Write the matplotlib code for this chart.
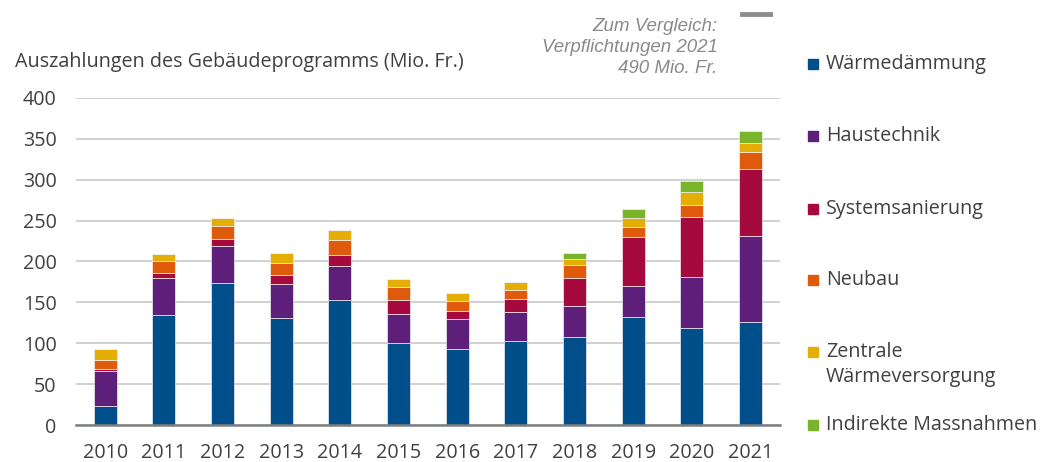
import numpy as np
import matplotlib.pyplot as plt
from matplotlib.patches import Rectangle
from matplotlib.lines import Line2D

plt.rcParams['font.family'] = ['Open Sans', 'DejaVu Sans']

years = ['2010', '2011', '2012', '2013', '2014', '2015',
         '2016', '2017', '2018', '2019', '2020', '2021']

waermedaemmung = [23.5, 135, 174, 131, 152.5, 100, 93.5, 103, 108, 132, 119, 125.5]
haustechnik = [42.5, 45, 45, 42, 41.5, 36, 36, 35.5, 37, 38, 62, 106]
systemsanierung = [3, 6.5, 9, 11, 13.5, 17.5, 10, 15.5, 35, 60, 73.5, 82]
neubau = [11, 14.5, 16, 14, 18.5, 15, 12, 11, 16, 12, 15, 20]
zentrale = [12.5, 8.5, 9.5, 12, 13, 9.5, 10, 9.5, 7.5, 11.5, 16, 12]
indirekte = [0, 0, 0, 0, 0, 0, 0, 0, 6.5, 11, 13, 14.5]

series_names = ['Wärmedämmung', 'Haustechnik', 'Systemsanierung', 'Neubau',
                'Zentrale\nWärmeversorgung', 'Indirekte Massnahmen']
series_values = [waermedaemmung, haustechnik, systemsanierung, neubau, zentrale, indirekte]
colors = ['#004f8a', '#5e1f7b', '#a5093e', '#df5a0b', '#e4ae05', '#79b42b']

text_col = '#404040'
fs = 14.2

fig = plt.figure(figsize=(10.52, 4.62), dpi=100)
ax = fig.add_axes([0.0722, 0.080, 0.669, 0.708])

x = np.arange(len(years))
bottom = np.zeros(len(years))
for vals, c in zip(series_values, colors):
    vals = np.array(vals, dtype=float)
    ax.bar(x, vals, width=0.39, bottom=bottom, color=c,
           edgecolor='#f0f0f0', linewidth=0.5, zorder=3)
    bottom += vals

ax.set_xlim(-0.5, 11.5)
ax.set_ylim(0, 400)
ax.set_yticks(range(0, 401, 50))
ax.set_xticks(x)
ax.set_xticklabels(years)
ax.yaxis.grid(True, color='#d0d0d0', linewidth=1.4, zorder=0)
for s in ['top', 'right', 'left']:
    ax.spines[s].set_visible(False)
ax.spines['bottom'].set_color('#7f7f7f')
ax.spines['bottom'].set_linewidth(1.8)
ax.spines['bottom'].set_zorder(4)
ax.tick_params(length=0, labelsize=fs, colors=text_col, pad=13)
ax.tick_params(axis='y', pad=14)

fig.text(0.014, 0.865, 'Auszahlungen des Gebäudeprogramms (Mio. Fr.)',
         fontsize=fs, color=text_col, va='center', ha='left')

# note on commitments
fig.text(0.682, 0.897, 'Zum Vergleich:\nVerpflichtungen 2021\n490 Mio. Fr.',
         family=['Liberation Sans'], style='italic', fontsize=13.5, color='#8a8a8a',
         ha='right', va='center', linespacing=1.3)
fig.add_artist(Line2D([0.705, 0.732], [0.97, 0.97], color='#8c8c8c',
                      linewidth=3.5, transform=fig.transFigure))

# legend
legend_y = [64, 136, 209, 280, 352, 425]
for name, c, yp in zip(series_names, colors, legend_y):
    yf = 1 - yp / 462
    fig.add_artist(Rectangle((808 / 1052, yf - 5 / 462), 10 / 1052, 10 / 462,
                             color=c, transform=fig.transFigure))
    lines = name.split('\n')
    for k, line in enumerate(lines):
        fig.text(826 / 1052, yf - k * 25 / 462, line, fontsize=fs,
                 color=text_col, va='center', ha='left')

fig.savefig('out.png', dpi=100)
